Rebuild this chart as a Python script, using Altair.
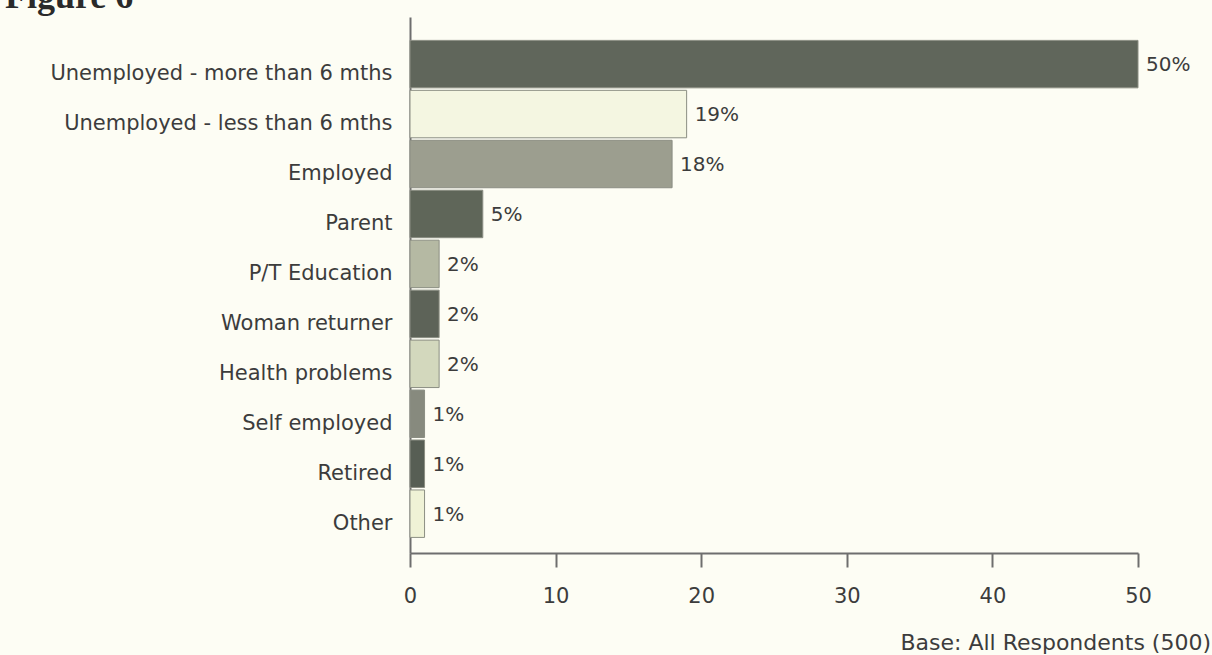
import altair as alt
import pandas as pd

categories = [
    "Unemployed - more than 6 mths",
    "Unemployed - less than 6 mths",
    "Employed",
    "Parent",
    "P/T Education",
    "Woman returner",
    "Health problems",
    "Self employed",
    "Retired",
    "Other",
]
values = [50, 19, 18, 5, 2, 2, 2, 1, 1, 1]
bar_colors = [
    "#60665b", "#f4f6e1", "#9c9e8f", "#5f6659", "#b5b9a3",
    "#5d6358", "#d3d8bd", "#878a7e", "#575e54", "#eff2d6",
]
x_ticks = [0, 10, 20, 30, 40, 50]
figure_title = "Figure 6"
footnote = "Base: All Respondents (500)"

df = pd.DataFrame({
    "category": categories,
    "value": values,
    "label": [f"{v}%" for v in values],
})

W, H = 728, 536
FONT = "DejaVu Sans"
TXT = "#3c3c3c"
AX = "#6e6e6e"

y_enc = alt.Y(
    "category:N",
    sort=categories,
    scale=alt.Scale(paddingInner=0.05, paddingOuter=0.39, align=0.6),
    axis=alt.Axis(
        title=None, ticks=False, labelPadding=18, labelFontSize=21,
        labelFont=FONT, labelColor=TXT, domainColor=AX, domainWidth=2,
        labelOffset=10, labelLimit=500,
    ),
)

bars = alt.Chart(df).mark_bar(stroke="#8b8e83", strokeWidth=1).encode(
    x=alt.X(
        "value:Q",
        scale=alt.Scale(domain=[0, 50], nice=False),
        axis=alt.Axis(
            title=None, values=x_ticks, grid=False, tickSize=14, tickWidth=2,
            tickColor=AX, domainColor=AX, domainWidth=2, labelPadding=18,
            labelFontSize=21, labelFont=FONT, labelColor=TXT, labelFlush=False,
        ),
    ),
    y=y_enc,
    color=alt.Color("category:N", scale=alt.Scale(domain=categories, range=bar_colors), legend=None),
)

labels = alt.Chart(df).mark_text(
    align="left", baseline="middle", dx=8, dy=1, fontSize=20, font=FONT, color=TXT
).encode(
    x="value:Q",
    y=alt.Y("category:N", sort=categories),
    text="label:N",
)

title_df = pd.DataFrame({"t": [figure_title]})
fig_title = alt.Chart(title_df).mark_text(
    align="left", baseline="alphabetic", fontSize=36, font="Liberation Serif",
    fontWeight="bold", color="#2a2a2a"
).encode(x=alt.value(-405), y=alt.value(-9), text="t:N")

foot_df = pd.DataFrame({"t": [footnote]})
foot = alt.Chart(foot_df).mark_text(
    align="right", baseline="alphabetic", fontSize=22, font=FONT, color=TXT
).encode(x=alt.value(W + 73), y=alt.value(H + 97), text="t:N")

chart = alt.layer(bars, labels, fig_title, foot).properties(
    width=W, height=H,
    autosize=alt.AutoSizeParams(type="none"),
    padding={"left": 410, "top": 17, "right": 74, "bottom": 102},
    background="#fdfdf4",
).configure_view(stroke=None)

chart.save("out.html", embed_options={"renderer": "svg", "actions": False})
